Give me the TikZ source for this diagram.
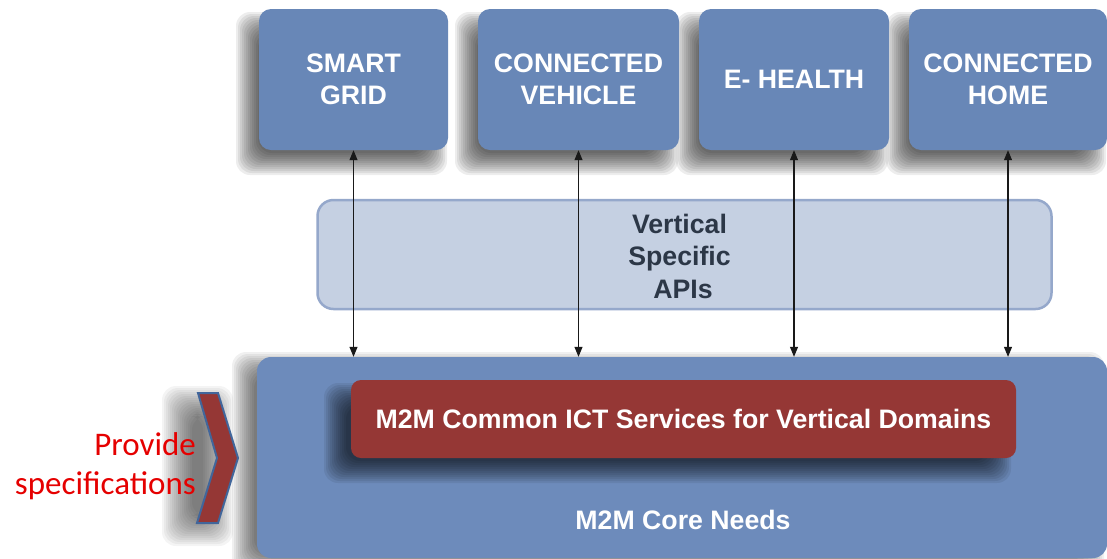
\documentclass[tikz,border=0pt]{standalone}
\usepackage{fontspec}
\setmainfont{Liberation Sans}
\newfontfamily\calibrifont{Carlito}
\usetikzlibrary{arrows.meta}

\definecolor{tileblue}{HTML}{6887B7}
\definecolor{coreblue}{HTML}{6D8BBB}
\definecolor{apifill}{HTML}{C5D0E2}
\definecolor{apiedge}{HTML}{95A8CB}
\definecolor{ictred}{HTML}{953735}
\definecolor{apitext}{HTML}{2C3747}
\definecolor{chevedge}{HTML}{41669B}
\definecolor{notered}{HTML}{E50000}

% soft drop shadow: stacked translucent rounded rectangles
% #1,#2,#3,#4 = box corners, #5,#6 = offset, #7 = number of layers, #8 = layer opacity
\newcommand{\softshade}[8]{%
  \foreach \k in {1,...,#7}{
    \fill[black, opacity=#8, rounded corners=14pt]
      ({#1+#5-#7+2*\k-1},{#2+#6-#7+2*\k-1}) rectangle
      ({#3+#5+#7-2*\k+1},{#4+#6+#7-2*\k+1});
  }}

\tikzset{
  tile/.style={fill=tileblue, rounded corners=12pt, inner sep=0pt,
      minimum height=141pt, text=white, align=center,
      font=\bfseries\fontsize{26.7}{32}\selectfont},
  corebox/.style={fill=coreblue, rounded corners=14pt, inner sep=0pt},
  ictbox/.style={fill=ictred, rounded corners=10pt, inner sep=0pt,
      text=white, font=\bfseries\fontsize{26.7}{32}\selectfont},
  apibox/.style={fill=apifill, draw=apiedge, line width=2.5pt,
      rounded corners=16pt, inner sep=0pt},
  bold26/.style={font=\bfseries\fontsize{26.7}{32.5}\selectfont, align=center},
  link/.style={{Triangle[length=10pt,width=8pt]}-{Triangle[length=10pt,width=8pt]},
      line width=1.1pt, draw=black!90},
}

\begin{document}
\begin{tikzpicture}[x=1pt, y=-1pt]
\useasboundingbox (0,0) rectangle (1107,558);

% shadows under the tiles, the core block and the chevron
\softshade{259}{9}{448}{150}{-12}{14}{12}{0.07}
\softshade{478}{9}{679}{150}{-12}{14}{12}{0.07}
\softshade{699}{9}{889}{150}{-12}{14}{12}{0.07}
\softshade{909}{9}{1107}{150}{-12}{14}{12}{0.07}
\softshade{257}{357}{1107}{558}{-14}{6}{12}{0.06}
\softshade{197}{393}{238}{523}{-20}{8}{16}{0.045}

% core needs block
\node[corebox, minimum width=850pt, minimum height=201pt] (core) at (682,457.5) {};
\softshade{351}{380}{1016}{458}{-16}{14}{12}{0.07}

% common services bar
\node[ictbox, minimum width=665pt, minimum height=78pt] (ict) at (683.5,419)
  {M2M Common ICT Services for Vertical Domains};
\node[text=white, bold26] (coretext) at (683,520) {M2M Core Needs};

% vertical specific APIs layer
\node[apibox, minimum width=734pt, minimum height=109pt] (api) at (684.5,254.5) {};
\node[text=apitext, bold26] (apitxt) at (679.5,256) {Vertical\\Specific\\\hspace*{7pt}APIs};

% vertical domains
\node[tile, minimum width=189pt] (sg) at (353.5,79.5) {SMART\\GRID};
\node[tile, minimum width=201pt] (cv) at (578.5,79.5) {CONNECTED\\VEHICLE};
\node[tile, minimum width=190pt] (eh) at (794,79.5) {E- HEALTH};
\node[tile, minimum width=198pt] (ch) at (1008,79.5) {CONNECTED\\HOME};

% links between domains and the core
\foreach \n in {sg,cv,eh,ch}
  \draw[link] (\n.south) -- (\n.south |- core.north);

% chevron pointing into the core
\path[fill=ictred, draw=chevedge, line width=2pt, line join=miter]
  (198,393) -- (218,393) -- (238,458) -- (218,523) -- (197,523) -- (217,458) -- cycle;

\node[anchor=east, align=right, text=notered, inner sep=0pt,
      font=\calibrifont\fontsize{33}{39}\selectfont] (spec) at (196,466)
  {Provide\\specifications};
\end{tikzpicture}
\end{document}
